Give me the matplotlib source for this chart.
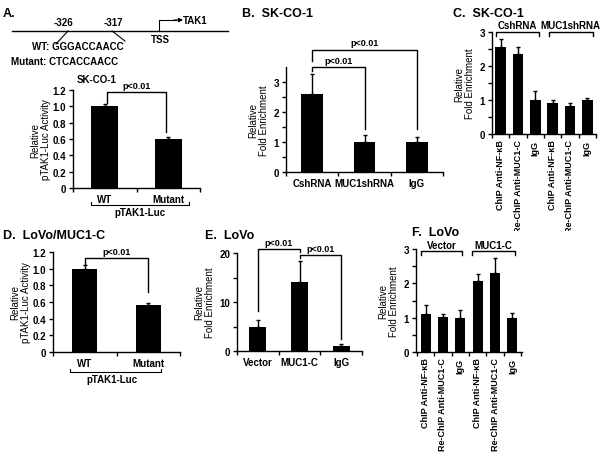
import matplotlib
matplotlib.use("Agg")
import matplotlib.pyplot as plt
import numpy as np
from matplotlib.transforms import Bbox, TransformedBbox

plt.rcParams['font.family'] = ['Liberation Sans', 'DejaVu Sans']
plt.rcParams['font.weight'] = 'bold'
plt.rcParams['font.size'] = 7
plt.rcParams['axes.linewidth'] = 1.0

W, H = 601, 456

# ---- data ----
luc_cats = ['WT', 'Mutant']
a_vals = [1.0, 0.6]
a_err = [0.025, 0.02]
d_vals = [1.0, 0.57]
d_err = [0.045, 0.02]

b_cats = ['CshRNA', 'MUC1shRNA', 'IgG']
b_vals = [2.6, 1.0, 1.0]
b_err = [0.68, 0.23, 0.17]

chip_cats = ['ChIP Anti-NF-\u03baB', 'Re-ChIP Anti-MUC1-C', 'IgG',
             'ChIP Anti-NF-\u03baB', 'Re-ChIP Anti-MUC1-C', 'IgG']
c_vals = [2.57, 2.35, 1.0, 0.92, 0.82, 1.0]
c_err = [0.22, 0.2, 0.27, 0.08, 0.1, 0.07]

e_cats = ['Vector', 'MUC1-C', 'IgG']
e_vals = [5.0, 14.0, 1.0]
e_err = [1.4, 4.3, 0.45]

f_vals = [1.1, 1.02, 1.0, 2.07, 2.3, 1.0]
f_err = [0.28, 0.1, 0.23, 0.2, 0.45, 0.14]

fig = plt.figure(figsize=(W / 100, H / 100), dpi=100)

# overlay axes in pixel coordinates for labels and the promoter sketch
ov = fig.add_axes([0, 0, 1, 1])
ov.set_xlim(0, W)
ov.set_ylim(H, 0)
ov.axis('off')


def px_axes(left, top, right, bottom):
    return fig.add_axes([left / W, 1 - bottom / H, (right - left) / W, (bottom - top) / H])


def bar_panel(ax, vals, err, width, ylim, yticks, cats=None, rot=False, xpad=0.5):
    n = len(vals)
    x = np.arange(n)
    ax.bar(x, vals, width=width, color='black', zorder=2)
    ax.errorbar(x, vals, yerr=[np.zeros(n), err], fmt='none', ecolor='black',
                elinewidth=1, capsize=1.5, capthick=1, zorder=3)
    ax.set_xlim(-xpad, n - 1 + xpad)
    ax.set_ylim(*ylim)
    for s in ['top', 'right']:
        ax.spines[s].set_visible(False)
    ax.set_yticks(yticks)
    ax.tick_params(axis='y', length=3, width=1, pad=2, labelsize=7)
    ax.set_xticks(np.arange(-0.5, n, 1.0), minor=True)
    ax.tick_params(axis='x', which='minor', length=3, width=1)
    ax.set_xticks(x)
    ax.set_xticklabels(cats if cats is not None else [], rotation=90 if rot else 0,
                       fontsize=7 if not rot else 6.5)
    ax.tick_params(axis='x', which='major', length=0, pad=4)
    return ax


def bracket(ax, x1, x2, ytop, y1, y2, text=None, ty=None, fs=6.5):
    ax.plot([x1, x1, x2, x2], [y1, ytop, ytop, y2], color='black', lw=1,
            clip_on=False, zorder=4)
    if text:
        ax.text((x1 + x2) / 2, ty, text, ha='center', va='bottom', fontsize=fs,
                clip_on=False)


def fmt_dec(vals):
    return ['0' if v == 0 else '%.1f' % v for v in vals]


# ---- panel A diagram ----
ov.text(3, 14, 'A.', fontsize=9, va='center')
ov.plot([12, 228], [32, 32], color='black', lw=1)
ov.text(63, 23, '-326', ha='center', va='center', fontsize=7)
ov.text(113, 23, '-317', ha='center', va='center', fontsize=7)
ov.plot([68, 56], [32, 45], color='black', lw=0.8)
ov.plot([112, 125], [32, 42], color='black', lw=0.8)
ov.text(78, 47, 'WT: GGGACCAACC', ha='center', va='center', fontsize=7)
ov.text(65, 62, 'Mutant: CTCACCAACC', ha='center', va='center', fontsize=7)
ov.plot([159, 159, 176], [32, 21, 21], color='black', lw=0.8)
ov.annotate('', xy=(183, 21), xytext=(174, 21),
            arrowprops=dict(arrowstyle='-|>', color='black', lw=0.8,
                            mutation_scale=6, shrinkA=0, shrinkB=0))
ov.text(183, 21, 'TAK1', ha='left', va='center', fontsize=7)
ov.text(160, 40, 'TSS', ha='center', va='center', fontsize=7)
ov.text(97, 80, 'SK-CO-1', ha='center', va='center', fontsize=7)

# ---- panel A chart ----
axA = px_axes(73, 91, 200, 189)
bar_panel(axA, a_vals, a_err, 0.42, (0, 1.2), np.arange(0, 1.21, 0.2), luc_cats)
axA.set_yticklabels(fmt_dec(np.arange(0, 1.21, 0.2)))
axA.set_ylabel('Relative\npTAK1-Luc Activity', fontsize=7, labelpad=1, linespacing=1.1)
bracket(axA, 0.03, 0.97, 1.175, 1.04, 0.69, 'p<0.01', 1.2)
ov.plot([91, 91, 189, 189], [203, 206, 206, 203], color='black', lw=0.8)
ov.text(140, 213, 'pTAK1-Luc', ha='center', va='center', fontsize=7)

# ---- panel B ----
ov.text(242, 14, 'B.  SK-CO-1', fontsize=9, va='center')
axB = px_axes(286, 68, 443, 173)
bar_panel(axB, b_vals, b_err, 0.41, (0, 3.5), [0, 1, 2, 3], b_cats)
axB.set_yticks(np.arange(0.5, 3.5, 1.0), minor=True)
axB.tick_params(axis='y', which='minor', length=3, width=1)
axB.set_ylabel('Relative\nFold Enrichment', fontsize=7, labelpad=3, linespacing=1.1)
bracket(axB, 0.0, 1.0, 3.5, 3.36, 1.45, 'p<0.01', 3.58)
bracket(axB, 0.0, 2.0, 4.07, 3.7, 1.45, 'p<0.01', 4.15)

# ---- panel C ----
ov.text(453, 14, 'C.  SK-CO-1', fontsize=9, va='center')
axC = px_axes(492, 33, 596, 135)
bar_panel(axC, c_vals, c_err, 0.6, (0, 3), [0, 1, 2, 3], chip_cats, rot=True)
axC.set_yticks(np.arange(0.5, 3, 1.0), minor=True)
axC.tick_params(axis='y', which='minor', length=3, width=1)
axC.set_ylabel('Relative\nFold Enrichment', fontsize=7, labelpad=3, linespacing=1.1)
bracket(axC, -0.25, 2.2, 3.0, 2.88, 2.88, 'CshRNA', 3.05, fs=7)
bracket(axC, 2.8, 5.3, 3.0, 2.88, 2.88, 'MUC1shRNA', 3.05, fs=7)
clip = TransformedBbox(Bbox([[0, 1 - 232 / H], [1, 1]]), fig.transFigure)
for t in axC.get_xticklabels():
    t.set_clip_box(clip)
    t.set_clip_on(True)

# ---- panel D ----
ov.text(3, 236, 'D.  LoVo/MUC1-C', fontsize=9, va='center')
axD = px_axes(53, 253, 180, 353)
bar_panel(axD, d_vals, d_err, 0.4, (0, 1.2), np.arange(0, 1.21, 0.2), luc_cats)
axD.set_yticklabels(fmt_dec(np.arange(0, 1.21, 0.2)))
axD.set_ylabel('Relative\npTAK1-Luc Activity', fontsize=7, labelpad=1, linespacing=1.1)
bracket(axD, 0.0, 1.0, 1.13, 1.06, 0.72, 'p<0.01', 1.15)
ov.plot([70, 70, 161, 161], [370, 373, 373, 370], color='black', lw=0.8)
ov.text(112, 380, 'pTAK1-Luc', ha='center', va='center', fontsize=7)

# ---- panel E ----
ov.text(205, 236, 'E.  LoVo', fontsize=9, va='center')
axE = px_axes(237, 254, 362, 352)
bar_panel(axE, e_vals, e_err, 0.4, (0, 20), [0, 10, 20], e_cats)
axE.set_yticks([5, 15], minor=True)
axE.tick_params(axis='y', which='minor', length=3, width=1)
axE.set_ylabel('Relative\nFold Enrichment', fontsize=7, labelpad=3, linespacing=1.1)
bracket(axE, 0.0, 1.0, 20.8, 8.2, 20.2, 'p<0.01', 21.3)
bracket(axE, 1.0, 2.0, 19.6, 18.9, 2.4, 'p<0.01', 20.1)

# ---- panel F ----
ov.text(412, 233, 'F.  LoVo', fontsize=9, va='center')
axF = px_axes(416, 250, 522, 353)
bar_panel(axF, f_vals, f_err, 0.57, (0, 3), [0, 1, 2, 3], chip_cats, rot=True, xpad=0.55)
axF.set_yticks(np.arange(0.5, 3, 1.0), minor=True)
axF.tick_params(axis='y', which='minor', length=3, width=1)
axF.set_ylabel('Relative\nFold Enrichment', fontsize=7, labelpad=3, linespacing=1.1)
bracket(axF, -0.25, 2.1, 2.95, 2.83, 2.83, 'Vector', 2.97, fs=7)
bracket(axF, 2.7, 5.15, 2.95, 2.83, 2.83, 'MUC1-C', 2.97, fs=7)

fig.savefig('out.png', dpi=100)
